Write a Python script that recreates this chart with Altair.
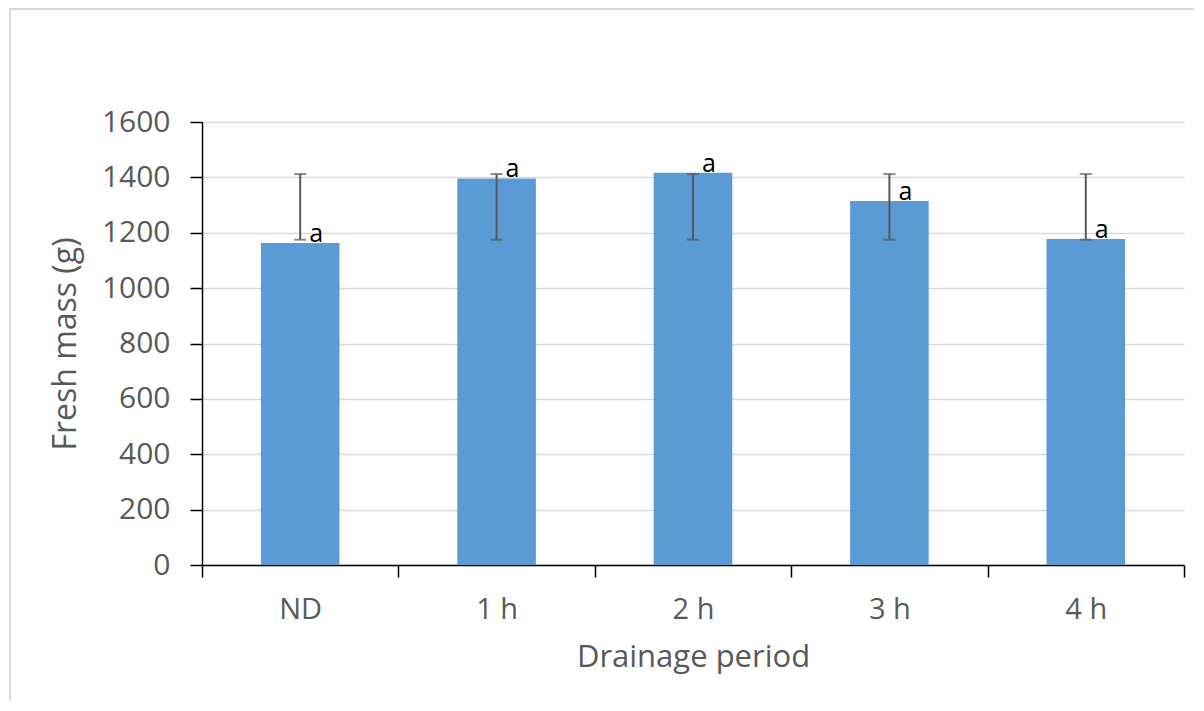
import altair as alt
import pandas as pd

categories = ["ND", "1 h", "2 h", "3 h", "4 h"]
fresh_mass = [1163, 1396, 1417, 1315, 1177]
err_low = [1175, 1175, 1175, 1175, 1175]
err_high = [1412, 1412, 1412, 1412, 1412]
letters = ["a", "a", "a", "a", "a"]

df = pd.DataFrame({
    "period": categories,
    "mass": fresh_mass,
    "lo": err_low,
    "hi": err_high,
    "letter": letters,
})

FONT = "Open Sans"
GREY = "#595959"

xscale = alt.Scale(paddingInner=0, paddingOuter=0)
yscale = alt.Scale(domain=[0, 1600])

xenc = alt.X(
    "period:N",
    sort=categories,
    title="Drainage period",
    scale=xscale,
    axis=alt.Axis(
        labelAngle=0, labelFontSize=29, labelColor=GREY, labelFont=FONT,
        titleFontSize=31, titleColor=GREY, titleFont=FONT, titleFontWeight="normal",
        domainColor="black", domainWidth=1.5, tickColor="black", tickWidth=1.5,
        tickSize=12, tickBand="extent", labelPadding=18, titlePadding=18, grid=False,
    ),
)

bars = alt.Chart(df).mark_bar(color="#5b9bd5", width=alt.RelativeBandSize(0.4)).encode(
    x=xenc,
    y=alt.Y(
        "mass:Q",
        scale=yscale,
        title="Fresh mass (g)",
        axis=alt.Axis(
            values=[0, 200, 400, 600, 800, 1000, 1200, 1400, 1600], format="d",
            labelFontSize=30, labelColor=GREY, labelFont=FONT, labelPadding=20,
            titleFontSize=32, titleColor=GREY, titleFont=FONT, titleFontWeight="normal",
            titlePadding=19, domainColor="black", domainWidth=1.5,
            tickColor="black", tickWidth=1.5, tickSize=12,
            gridColor="#d9d9d9", gridWidth=1.5,
        ),
    ),
)

errs = alt.Chart(df).mark_errorbar(
    ticks=alt.TickConfig(size=12, color=GREY, thickness=2), color=GREY, thickness=2
).encode(
    x=alt.X("period:N", sort=categories, scale=xscale),
    y=alt.Y("lo:Q", scale=yscale, title=""),
    y2="hi:Q",
)

labels = alt.Chart(df).mark_text(
    align="left", baseline="alphabetic", dx=9, dy=-1, fontSize=25, font=FONT, color="black"
).encode(
    x=alt.X("period:N", sort=categories, scale=xscale),
    y=alt.Y("mass:Q", scale=yscale),
    text="letter:N",
)

border = alt.Chart(df).mark_rect(fill=None, stroke="#d9d9d9", strokeWidth=1.5, clip=False).encode(
    x=alt.value(-192), x2=alt.value(1010), y=alt.value(-113), y2=alt.value(640)
)

chart = alt.layer(border, bars, errs, labels).properties(
    width=982, height=443,
    autosize=alt.AutoSizeParams(type="none"),
    padding={"left": 194, "top": 114, "right": 10, "bottom": 136},
).configure(background="white", view=alt.ViewConfig(stroke=None))

chart.save("out.html", embed_options={"renderer": "svg", "actions": False})
